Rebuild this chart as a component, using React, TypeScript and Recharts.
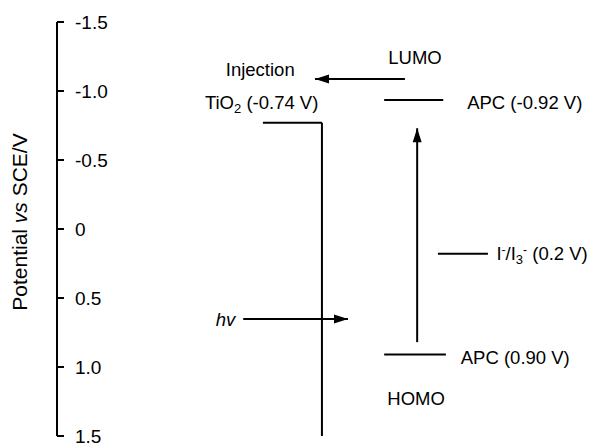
import React from "react";
import { ComposedChart, Line, XAxis, YAxis, ReferenceDot } from "recharts";

const FONT = "'Liberation Sans', Arial, Helvetica, sans-serif";

// potential axis (V vs SCE), drawn with negative values on top
const yTicks = [-1.5, -1.0, -0.5, 0, 0.5, 1.0, 1.5];
const yTickLabels = ["-1.5", "-1.0", "-0.5", "0", "0.5", "1.0", "1.5"];

// energy levels: horizontal bars (x in diagram units 0..100)
const levelNames = ["TiO2", "APC LUMO", "I-/I3-", "APC HOMO"];
const levelX1 = [38.7, 61.5, 71.6, 61.5];
const levelX2 = [49.8, 72.6, 81.0, 73.1];
const levelY = [-0.77, -0.935, 0.18, 0.91];

// TiO2 conduction band edge going down
const bandX = 49.8;
const bandTop = -0.77;
const bandBottom = 1.5;

// arrows: from -> to (tip)
const arrowNames = ["injection", "excitation", "hv"];
const arrowFromX = [65.4, 67.7, 35.0];
const arrowFromY = [-1.087, 0.82, 0.652];
const arrowToX = [48.5, 67.7, 54.7];
const arrowToY = [-1.087, -0.73, 0.652];
const arrowDir = ["left", "up", "right"];

// text annotations
const labelKeys = ["injection", "lumo", "tio2", "apcLumo", "redox", "hv", "apcHomo", "homo"];
const labelX = [38.2, 67.3, 27.8, 77.1, 82.6, 33.5, 75.9, 67.5];
const labelY = [-1.152, -1.246, -0.913, -0.913, 0.18, 0.655, 0.928, 1.225];
const labelAnchor = ["middle", "middle", "start", "start", "start", "end", "start", "middle"];

const FS = 18.5;

function labelContent(key: string) {
  switch (key) {
    case "injection":
      return "Injection";
    case "lumo":
      return "LUMO";
    case "homo":
      return "HOMO";
    case "tio2":
      return (
        <>
          TiO
          <tspan dy={4} fontSize={13}>2</tspan>
          <tspan dy={-4}> (-0.74 V)</tspan>
        </>
      );
    case "apcLumo":
      return "APC (-0.92 V)";
    case "apcHomo":
      return "APC (0.90 V)";
    case "redox":
      return (
        <>
          I
          <tspan dy={-6} fontSize={12}>-</tspan>
          <tspan dy={6}>/I</tspan>
          <tspan dy={4} fontSize={13}>3</tspan>
          <tspan dy={-10} fontSize={12}>-</tspan>
          <tspan dy={6}> (0.2 V)</tspan>
        </>
      );
    case "hv":
      return <tspan fontStyle="italic">hv</tspan>;
    default:
      return key;
  }
}

const makeLabelShape = (key: string, anchor: string) => (p: any) => (
  <text
    x={p.cx}
    y={p.cy}
    dy="0.35em"
    textAnchor={anchor as any}
    fontFamily={FONT}
    fontSize={FS}
    fill="#000"
  >
    {labelContent(key)}
  </text>
);

const makeArrowDot = (dir: string) => (p: any) => {
  if (p.index !== 1) return <g key={`d${p.index}`} />;
  const { cx, cy } = p;
  const L = 14;
  const W = 4.5;
  let pts = "";
  if (dir === "left") pts = `${cx},${cy} ${cx + L},${cy - W} ${cx + L},${cy + W}`;
  if (dir === "right") pts = `${cx},${cy} ${cx - L},${cy - W} ${cx - L},${cy + W}`;
  if (dir === "up") pts = `${cx},${cy} ${cx - W},${cy + L} ${cx + W},${cy + L}`;
  return <polygon key={`d${p.index}`} points={pts} fill="#000" stroke="none" />;
};

const AxisTitle = (props: any) => {
  const vb = props.viewBox || { y: 22, height: 414 };
  const cx = 20;
  const cy = vb.y + vb.height / 2 - 7;
  return (
    <text
      x={cx}
      y={cy}
      transform={`rotate(-90, ${cx}, ${cy})`}
      textAnchor="middle"
      dy="0.35em"
      fontFamily={FONT}
      fontSize={21}
      fill="#000"
    >
      Potential <tspan fontStyle="italic">vs</tspan> SCE/V
    </text>
  );
};

export default function App() {
  return (
    <div style={{ position: "absolute", left: 0, top: 0, background: "#fff" }}>
      <ComposedChart
        width={589}
        height={443}
        margin={{ top: 22, right: 0, bottom: 7, left: 57 }}
      >
        <XAxis dataKey="x" type="number" domain={[0, 100]} hide allowDataOverflow />
        <YAxis
          type="number"
          domain={[-1.5, 1.5]}
          reversed
          mirror
          ticks={yTicks}
          interval={0}
          tickFormatter={(v: number) => yTickLabels[yTicks.indexOf(v)] ?? String(v)}
          axisLine={{ stroke: "#000", strokeWidth: 2 }}
          tickLine={{ stroke: "#000", strokeWidth: 2 }}
          tickSize={7}
          tickMargin={11}
          tick={{ fill: "#000", fontSize: 19, fontFamily: FONT }}
          label={<AxisTitle />}
        />
        {levelNames.map((n, i) => (
          <Line
            key={n}
            data={[
              { x: levelX1[i], y: levelY[i] },
              { x: levelX2[i], y: levelY[i] },
            ]}
            dataKey="y"
            type="linear"
            stroke="#000"
            strokeWidth={2}
            dot={false}
            activeDot={false}
            isAnimationActive={false}
          />
        ))}
        <Line
          data={[
            { x: bandX, y: bandTop },
            { x: bandX, y: bandBottom },
          ]}
          dataKey="y"
          type="linear"
          stroke="#000"
          strokeWidth={2}
          dot={false}
          activeDot={false}
          isAnimationActive={false}
        />
        {arrowNames.map((n, i) => (
          <Line
            key={n}
            data={[
              { x: arrowFromX[i], y: arrowFromY[i] },
              { x: arrowToX[i], y: arrowToY[i] },
            ]}
            dataKey="y"
            type="linear"
            stroke="#000"
            strokeWidth={2}
            dot={makeArrowDot(arrowDir[i])}
            activeDot={false}
            isAnimationActive={false}
          />
        ))}
        {labelKeys.map((k, i) => (
          <ReferenceDot
            key={k}
            x={labelX[i]}
            y={labelY[i]}
            r={0}
            ifOverflow="visible"
            shape={makeLabelShape(k, labelAnchor[i])}
          />
        ))}
      </ComposedChart>
    </div>
  );
}
